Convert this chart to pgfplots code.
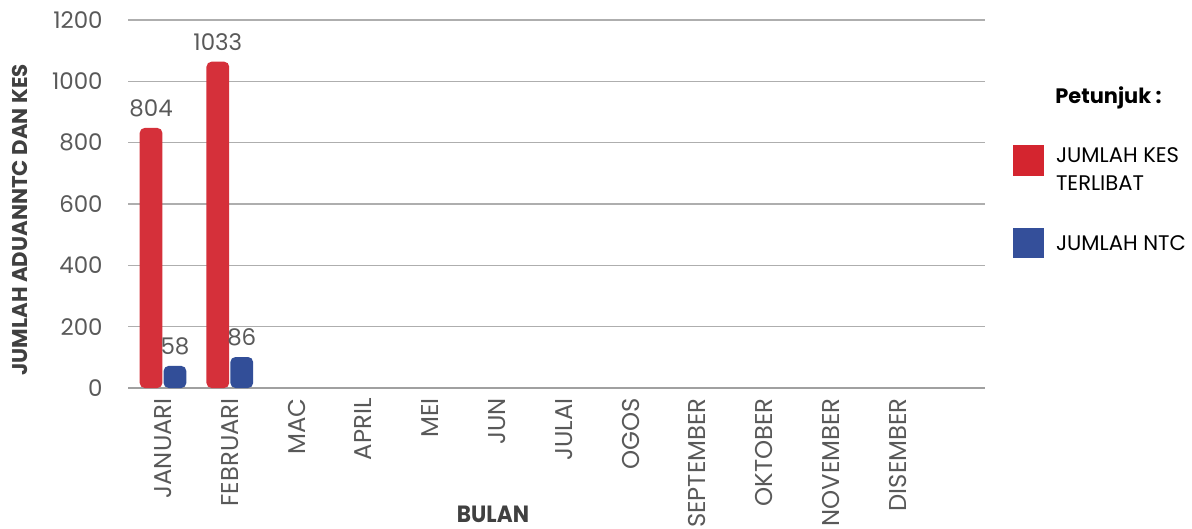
\documentclass[border=0pt]{standalone}
\usepackage{pgfplots}
\usepackage{pgfplotstable}
\pgfplotsset{compat=1.18}
\usepackage{fontspec}
\setmainfont{Poppins}
\definecolor{kesred}{HTML}{D5303A}
\definecolor{ntcblue}{HTML}{324E98}
\definecolor{legred}{HTML}{D4252F}
\definecolor{legblue}{HTML}{344F9A}
\definecolor{ticktext}{HTML}{595959}
\definecolor{gridgray}{HTML}{AEAEAE}
\definecolor{axisgray}{HTML}{A0A0A0}
\definecolor{labtext}{HTML}{404040}
\pgfplotstableread{
x y lab
0 848 804
1 1064 1033
}\kesdata
\pgfplotstableread{
x y lab
0 72 58
1 101 86
}\ntcdata
\begin{document}
\begin{tikzpicture}
\useasboundingbox (0,0) rectangle (596bp,264.5bp);
\begin{axis}[
  at={(64bp,70.5bp)}, anchor=south west,
  scale only axis, width=428.5bp, height=184bp,
  xmin=-0.524, xmax=12.305, ymin=0, ymax=1200,
  axis x line*=bottom, axis y line*=left,
  y axis line style={draw=none},
  x axis line style={draw=axisgray, line width=1.1bp},
  ytick={0,200,...,1200},
  xtick={0,...,11},
  xticklabels={JANUARI,FEBRUARI,MAC,APRIL,MEI,JUN,JULAI,OGOS,SEPTEMBER,OKTOBER,NOVEMBER,DISEMBER},
  major tick length=0pt,
  ymajorgrids, grid style={draw=gridgray, line width=0.6bp},
  /pgf/number format/assume math mode=true,
  /pgf/number format/1000 sep={},
  yticklabel style={font=\fontsize{11.5}{13}\selectfont, text=ticktext, anchor=east, inner sep=0pt, xshift=-12.5bp},
  xticklabel style={font=\fontsize{12.2}{14}\selectfont, text=ticktext, rotate=90, anchor=east, inner sep=0pt, xshift=-5bp},
  clip=false,
  ybar=0.6bp, bar width=0.34,
  nodes near coords,
  point meta=explicit symbolic,
  every node near coord/.append style={font=\fontsize{11.5}{13}\selectfont, text=ticktext, anchor=south, yshift=2bp},
]
\addplot[fill=kesred, draw=none, rounded corners=2.5bp] table[x=x, y=y, meta=lab]{\kesdata};
\addplot[fill=ntcblue, draw=none, rounded corners=2.5bp] table[x=x, y=y, meta=lab]{\ntcdata};
\end{axis}
\node[rotate=90, font=\bfseries\fontsize{10.7}{13}\selectfont, text=labtext] at (10bp,154.5bp) {JUMLAH ADUANNTC DAN KES};
\node[font=\bfseries\fontsize{11.8}{13}\selectfont, text=labtext, anchor=base, xscale=0.92, inner sep=0pt] at (246.5bp,3.2bp) {BULAN};
\node[font=\bfseries\fontsize{10.5}{12}\selectfont, anchor=west, inner sep=0pt] at (527.5bp,215.5bp) {Petunjuk :};
\fill[legred] (506.3bp,176.5bp) rectangle (522bp,192bp);
\node[font=\fontsize{10.6}{14}\selectfont, anchor=west, inner sep=0pt, align=left] at (527.8bp,180bp) {JUMLAH KES\\TERLIBAT};
\fill[legblue] (506.3bp,135.5bp) rectangle (522bp,150.7bp);
\node[font=\fontsize{10.6}{14}\selectfont, anchor=west, inner sep=0pt] at (527.8bp,143bp) {JUMLAH NTC};
\end{tikzpicture}
\end{document}
